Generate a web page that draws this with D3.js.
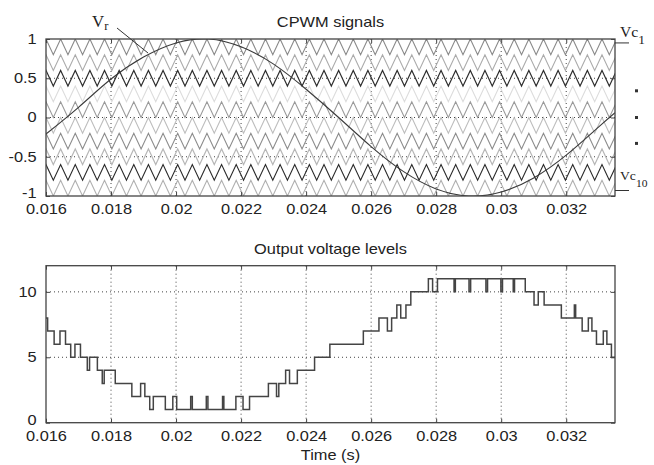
<!DOCTYPE html>
<html><head><meta charset="utf-8">
<script src="https://cdn.jsdelivr.net/npm/d3@7"></script>
<style>body{margin:0;background:#fff}svg{display:block}</style>
</head><body><svg id="c" width="654" height="465"></svg>
<script>
// ---------- data ----------
const xDomain=[0.016,0.0335];
const xTicks=[0.016,0.018,0.02,0.022,0.024,0.026,0.028,0.03,0.032];
const xTickLabels=["0.016","0.018","0.02","0.022","0.024","0.026","0.028","0.03","0.032"];
const topYTicks=[-1,-0.5,0,0.5,1];
const topYTickLabels=["-1","-0.5","0","0.5","1"];
const botYTicks=[0,5,10];
const botYTickLabels=["0","5","10"];
const topTitle="CPWM signals";
const botTitle="Output voltage levels";
const xLabel="Time (s)";
// ten level-shifted triangular carriers (lower bound of each band, top to bottom)
const carrierLower=[0.8,0.6,0.4,0.2,0,-0.2,-0.4,-0.6,-0.8,-1];
const carrierHeight=0.2;
const carrierColors=["#8a8a8a","#ababab","#2e2e2e","#dcdcdc","#9a9a9a","#bdbdbd","#8c8c8c","#b6b6b6","#2a2a2a","#b0b0b0"];
const carrierPeriod=0.00045;
const carrierFirstPeak=0.016;
// reference sine
const refTimes=[0.016,0.017,0.018,0.019,0.020,0.021,0.022,0.023,0.024,0.025,0.026,0.027,0.028,0.029,0.030,0.031,0.032,0.033,0.0335];
const refValues=[-0.21,0.13,0.49,0.77,0.95,1.0,0.90,0.68,0.36,0.0,-0.37,-0.69,-0.91,-1.0,-0.95,-0.77,-0.48,-0.12,0.06];
// output voltage level steps (time where level starts, level)
const stepTimes=[0.01600,0.01605,0.01625,0.01643,0.01660,0.01676,0.01689,0.01706,0.01727,0.01734,0.01758,0.01773,0.01779,0.01813,0.01864,0.01891,0.01904,0.01919,0.01930,0.01967,0.01990,0.02002,0.02045,0.02050,0.02093,0.02098,0.02143,0.02147,0.02184,0.02206,0.02226,0.02284,0.02309,0.02316,0.02337,0.02349,0.02373,0.02426,0.02473,0.02576,0.02624,0.02650,0.02663,0.02679,0.02691,0.02707,0.02722,0.02776,0.02789,0.02804,0.02855,0.02859,0.02901,0.02906,0.02953,0.02958,0.02999,0.03004,0.03037,0.03041,0.03074,0.03101,0.03114,0.03132,0.03185,0.03225,0.03229,0.03249,0.03268,0.03279,0.03293,0.03314,0.03325,0.03339];
const stepLevels=[8,7,6,7,6,5,6,5,4,5,4,3,4,3,2,3,2,1,2,1,2,1,2,1,2,1,2,1,2,1,2,3,2,3,4,3,4,5,6,7,8,7,8,9,8,9,10,11,10,11,10,11,10,11,10,11,10,11,10,11,10,9,10,9,8,9,8,7,8,7,6,7,6,5];

// ---------- layout ----------
const svg=d3.select("#c");
const SX=1.17; // horizontal stretch of the raster text
const FONT="'Liberation Sans', Arial, Helvetica, sans-serif";
const SERIF="'Liberation Serif', 'Times New Roman', serif";
const L=46,R=615;
const x=d3.scaleLinear().domain(xDomain).range([L,R]);
const yTop=d3.scaleLinear().domain([-1,1]).range([196,39]);
const yBot=d3.scaleLinear().domain([0,12]).range([422.7,265.7]);

function txt(g,px,py,s,anchor,size,font){
  return g.append("text").attr("transform",`translate(${px},${py}) scale(${SX},1)`)
    .attr("text-anchor",anchor||"middle").attr("font-family",font||FONT)
    .attr("font-size",size||14).attr("fill","#222").text(s);
}

function panel(y,yTicks,yLabels,gridY,title,titleY,clipId){
  const g=svg.append("g");
  const y0=y.range()[0],y1=y.range()[1];
  xTicks.forEach(t=>{ if(x(t)>L+1&&x(t)<R-1) g.append("line").attr("x1",x(t)).attr("x2",x(t)).attr("y1",y0).attr("y2",y1)
     .attr("stroke","#444").attr("stroke-width",1).attr("stroke-dasharray","1,3");});
  gridY.forEach(v=>g.append("line").attr("x1",L).attr("x2",R).attr("y1",y(v)).attr("y2",y(v))
     .attr("stroke","#444").attr("stroke-width",1).attr("stroke-dasharray","1,3"));
  svg.append("clipPath").attr("id",clipId).append("rect").attr("x",L).attr("y",y1).attr("width",R-L).attr("height",y0-y1);
  const ax=d3.axisBottom(x).tickValues(xTicks).tickFormat((d,i)=>xTickLabels[i]).tickSizeInner(-4).tickSizeOuter(0).tickPadding(8);
  const gb=svg.append("g").attr("transform",`translate(0,${y0})`).call(ax);
  const axT=d3.axisTop(x).tickValues(xTicks).tickFormat("").tickSizeInner(-4).tickSizeOuter(0);
  const gt=svg.append("g").attr("transform",`translate(0,${y1})`).call(axT);
  const ay=d3.axisLeft(y).tickValues(yTicks).tickFormat((d,i)=>yLabels[i]).tickSizeInner(-4).tickSizeOuter(0).tickPadding(8);
  const gl=svg.append("g").attr("transform",`translate(${L},0)`).call(ay);
  const ayR=d3.axisRight(y).tickValues(yTicks).tickFormat("").tickSizeInner(-4).tickSizeOuter(0);
  const gr=svg.append("g").attr("transform",`translate(${R},0)`).call(ayR);
  [gb,gt,gl,gr].forEach(a=>{a.select(".domain").remove();a.selectAll("line").attr("stroke","#444");
    a.selectAll("text").attr("font-family",FONT).attr("font-size",14).attr("fill","#222");});
  gb.selectAll("text").attr("transform",`scale(${SX},1)`);
  gl.selectAll("text").attr("transform",`scale(${SX},1)`).attr("x",-8);
  txt(svg,(L+R)/2,titleY,title);
  return {g,gl};
}

// top panel
const topP=panel(yTop,topYTicks,topYTickLabels,[-0.5,0,0.5],topTitle,27,"clipTop");
topP.gl.selectAll(".tick text").filter(d=>d===-1).attr("y",-3);
const cg=topP.g.append("g").attr("clip-path","url(#clipTop)");
carrierLower.forEach((lo,i)=>{
  const pts=[];
  for(let k=-2;;k++){const t=carrierFirstPeak+k*carrierPeriod/2; pts.push([t,k%2===0?lo+carrierHeight:lo]); if(t>xDomain[1]+carrierPeriod) break;}
  cg.append("path").attr("d",d3.line().x(d=>x(d[0])).y(d=>yTop(d[1]))(pts))
    .attr("fill","none").attr("stroke",carrierColors[i]).attr("stroke-width",1.1);
});
cg.append("path").datum(refTimes.map((t,i)=>[t,refValues[i]]))
  .attr("d",d3.line().x(d=>x(d[0])).y(d=>yTop(d[1])).curve(d3.curveNatural))
  .attr("fill","none").attr("stroke","#3a3a3a").attr("stroke-width",1.1);
svg.append("rect").attr("x",L).attr("y",39).attr("width",R-L).attr("height",196-39)
  .attr("fill","none").attr("stroke","#444").attr("stroke-width",1.3);

// annotations top
const ann=svg.append("g");
const vr=ann.append("text").attr("transform","translate(92,27) scale(1.05,1)").attr("font-family",SERIF).attr("font-size",16).attr("fill","#222");
vr.append("tspan").text("V");
vr.append("tspan").attr("font-size",12).attr("dy",3).text("r");
ann.append("line").attr("x1",117).attr("y1",28).attr("x2",148).attr("y2",53).attr("stroke","#333");
ann.append("line").attr("x1",R).attr("x2",629).attr("y1",yTop(0.95)).attr("y2",yTop(0.95)).attr("stroke","#333");
ann.append("line").attr("x1",R).attr("x2",629).attr("y1",yTop(-0.93)).attr("y2",yTop(-0.93)).attr("stroke","#333");
const vc1=ann.append("text").attr("transform",`translate(620,${yTop(0.95)-6}) scale(1.12,1)`).attr("font-family",SERIF).attr("font-size",14).attr("fill","#222");
vc1.append("tspan").text("Vc");vc1.append("tspan").attr("font-size",12).attr("dy",7).text("1");
const vc10=ann.append("text").attr("transform",`translate(620,${yTop(-0.93)-11}) scale(1.05,1)`).attr("font-family",SERIF).attr("font-size",13).attr("fill","#222");
vc10.append("tspan").text("Vc");vc10.append("tspan").attr("font-size",11).attr("dy",7).text("10");
[0.34,0,-0.33].forEach(v=>ann.append("rect").attr("x",635).attr("y",yTop(v)-1.5).attr("width",3).attr("height",3).attr("fill","#333"));

// bottom panel
const botP=panel(yBot,botYTicks,botYTickLabels,[5,10],botTitle,254,"clipBot");
botP.gl.selectAll(".tick text").filter(d=>d===0).attr("y",-3);
const stepPts=stepTimes.map((t,i)=>[t,stepLevels[i]]);
stepPts.push([xDomain[1],stepLevels[stepLevels.length-1]]);
botP.g.append("path").attr("clip-path","url(#clipBot)")
  .attr("d",d3.line().x(d=>x(d[0])).y(d=>yBot(d[1])).curve(d3.curveStepAfter)(stepPts))
  .attr("fill","none").attr("stroke","#444").attr("stroke-width",1.5);
svg.append("rect").attr("x",L).attr("y",265.7).attr("width",R-L).attr("height",422.7-265.7)
  .attr("fill","none").attr("stroke","#444").attr("stroke-width",1.3);
txt(svg,(L+R)/2,460,xLabel);
</script></body></html>
